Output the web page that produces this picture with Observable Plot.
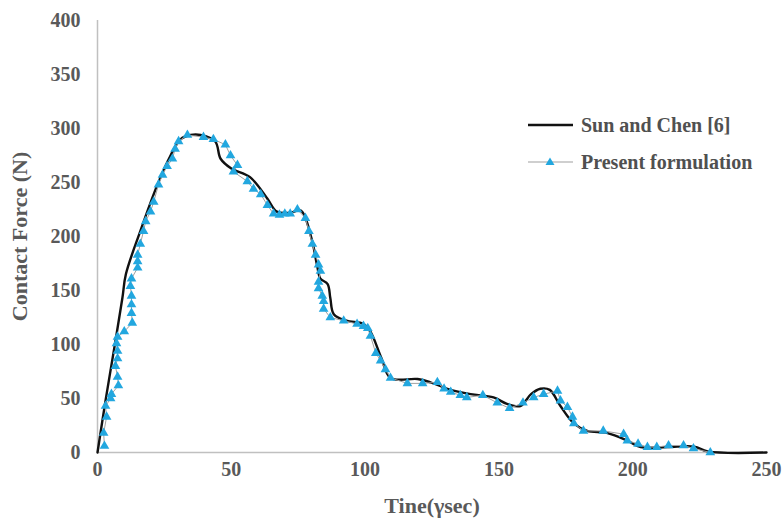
<!DOCTYPE html>
<html><head><meta charset="utf-8">
<script src="https://cdn.jsdelivr.net/npm/d3@7"></script>
<script src="https://cdn.jsdelivr.net/npm/@observablehq/plot@0.6"></script>
<style>
body{margin:0;background:#fff;}
#wrap{position:relative;width:782px;height:518px;font-family:"Liberation Serif","Times New Roman",serif;}
.leg{position:absolute;left:528px;font-weight:bold;font-size:20px;color:#505050;display:flex;align-items:center;line-height:20px;}
.leg svg{margin-right:7px;}
</style></head>
<body><div id="wrap"></div>
<script>
// Sun and Chen [6] : time (μs), force (N)
const sunT = [0,3,6.7,9.3,10.6,16,22.4,27.3,31,34.8,38.5,44,46,50,57,63.5,67,72,76,80,82,83.3,86,87,88.3,93,99.4,102,106,109.5,119.6,124.4,130.8,139.4,148,153,158,162,165.5,169,173,178,183,190.6,198,203,213,223,228,250];
const sunF = [0,48,103,143,165,205,248,275,290,294,294,288,272,263,255,235,223,222,224,198,174,161,156,143,128,122,119,112,88,69,68,65,59,54,51,45,43,54,59,58,43,27,20,18,11,5,5,5.5,1,0];
// Present formulation
const preT = [2.6,2.3,3.4,3,4.9,5.2,7.8,7.5,6.7,7.5,7.5,7.1,7.5,10,13,12.7,12.7,12.7,12.3,12.7,15,15,15,16,17.2,18,19.8,21,22.8,24.3,26,28,29,30.3,33.6,39.6,43.3,47.8,49.7,52.3,50.8,56,58.3,61,63.5,65.8,68,70,72,74.7,77.7,79,80.3,81.5,82.6,83.3,82.6,82.6,84,84.5,84.5,87,92,97,99.4,101,102,104,105.8,107.6,109.5,115.8,121.5,127,129.5,132,135.6,138,144,149.4,154,159,163,166.7,171.9,173,175.6,177.5,178,181.6,189,196.6,198,202,205.5,209,213.4,219,222.7,229];
const preF = [6,18,33,43,50,54,62,70,80,87,94,101,107,112,120,129,137,145,154,161,171,177,183,193,205,214,223,232,248,257,265,272,281,288,294,292,290,285,275,266,260,251,244,239,229,221,220,221,221,225,217,205,193,183,174,168,158,152,145,140,133,125,122,119,117,115,108,92,85,77,69,64,64,65,59,56,53,51,53,46,41,46,51,54,57,48,42,33,27,20,20,17,11,8,5,5,6.5,6.5,3.7,0];
const xTicks = [0,50,100,150,200,250];
const yTicks = [0,50,100,150,200,250,300,350,400];

const sun = sunT.map((t,i)=>({t, f:sunF[i]}));
const pre = preT.map((t,i)=>({t, f:preF[i]}));
const tickCol = "#595959";

const chart = Plot.plot({
  width:782, height:518,
  marginLeft:97, marginRight:16, marginTop:20, marginBottom:66,
  style:{fontFamily:"'Liberation Serif','Times New Roman',serif", fontWeight:"bold", fontSize:"20px", color:tickCol, background:"#fff"},
  x:{domain:[0,250], ticks:xTicks, tickSize:0, tickPadding:9, label:"Tine(γsec)", labelAnchor:"center", labelArrow:"none", labelOffset:60},
  y:{domain:[0,400], ticks:yTicks, tickSize:0, tickPadding:17, label:"Contact Force (N)", labelAnchor:"center", labelArrow:"none", labelOffset:86},
  marks:[
    Plot.ruleX([0],{stroke:"#c0c0c0", strokeWidth:1.5}),
    Plot.ruleY([0],{stroke:"#c0c0c0", strokeWidth:1.5}),
    Plot.line(sun,{x:"t", y:"f", stroke:"#111", strokeWidth:2.4, curve:"catmull-rom"}),
    Plot.line(pre,{x:"t", y:"f", stroke:"#a0a0a0", strokeWidth:1}),
    Plot.dot(pre,{x:"t", y:"f", symbol:"triangle", r:3.6, fill:"#22a7df", stroke:"none"})
  ]
});
const wrap = document.getElementById("wrap");
wrap.appendChild(chart);
// style axis labels
d3.select(chart).selectAll("[aria-label='x-axis label'] text, [aria-label='y-axis label'] text")
  .style("font-size","22px").attr("fill","#595959");

const leg1 = document.createElement("div");
leg1.className="leg"; leg1.style.top="115px";
leg1.innerHTML = '<svg width="46" height="20"><line x1="0" y1="10" x2="45" y2="10" stroke="#111" stroke-width="2.4"/></svg>Sun and Chen [6]';
const leg2 = document.createElement("div");
leg2.className="leg"; leg2.style.top="152px";
leg2.innerHTML = '<svg width="46" height="20"><line x1="0" y1="10" x2="45" y2="10" stroke="#a0a0a0" stroke-width="1.2"/><path d="M22,5.5 L26.5,13 L17.5,13 Z" fill="#22a7df"/></svg>Present formulation';
wrap.appendChild(leg1); wrap.appendChild(leg2);
</script></body></html>
